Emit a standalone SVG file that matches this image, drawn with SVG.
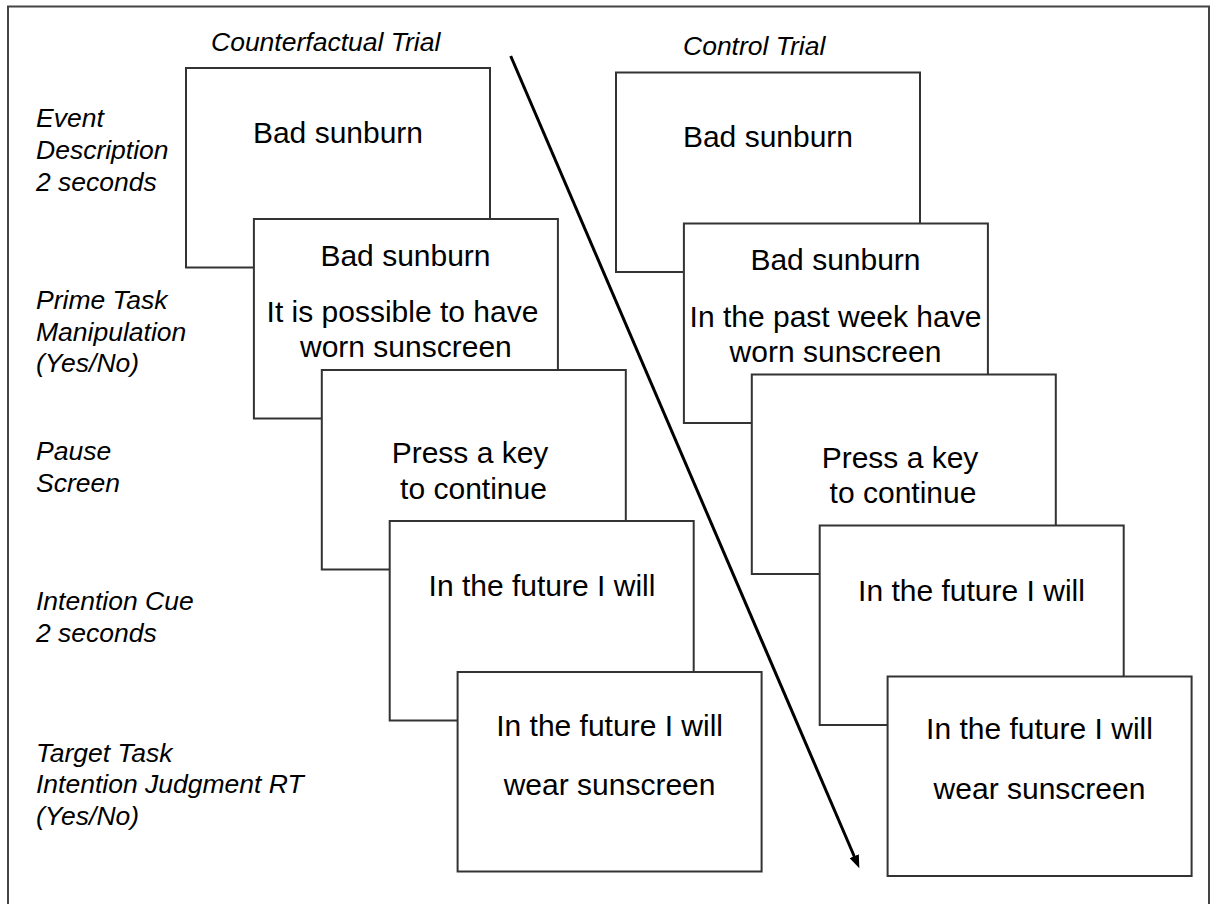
<svg xmlns="http://www.w3.org/2000/svg" width="1214" height="904" viewBox="0 0 1214 904">
<style>
.frame{fill:none;stroke:#444;stroke-width:2}
.box{fill:#fff;stroke:#333;stroke-width:2}
.lbl{font-family:"Liberation Sans",Arial,sans-serif;font-size:26.5px;font-style:italic;fill:#000}
.txt{font-family:"Liberation Sans",Arial,sans-serif;font-size:30px;fill:#000;text-anchor:middle}
.arrow{fill:none;stroke:#000;stroke-width:3}
</style>
<defs>
<marker id="ah" viewBox="0 0 13 10" refX="3" refY="5" markerWidth="13" markerHeight="10" markerUnits="userSpaceOnUse" orient="auto">
<path d="M0,0 L13,5 L0,10 Z" fill="#000"/>
</marker>
</defs>
<rect class="frame" x="8" y="6.5" width="1201" height="910"/>
<g id="labels">
<text class="lbl" x="211" y="51">Counterfactual Trial</text>
<text class="lbl" x="683" y="55">Control Trial</text>
<text class="lbl" x="36" y="127">Event</text>
<text class="lbl" x="36" y="159">Description</text>
<text class="lbl" x="36" y="191">2 seconds</text>
<text class="lbl" x="36" y="309">Prime Task</text>
<text class="lbl" x="36" y="341">Manipulation</text>
<text class="lbl" x="36" y="372">(Yes/No)</text>
<text class="lbl" x="36" y="460">Pause</text>
<text class="lbl" x="36" y="492">Screen</text>
<text class="lbl" x="36" y="610">Intention Cue</text>
<text class="lbl" x="36" y="642">2 seconds</text>
<text class="lbl" x="36" y="762">Target Task</text>
<text class="lbl" x="36" y="793">Intention Judgment RT</text>
<text class="lbl" x="36" y="825">(Yes/No)</text>
</g>
<g id="cf1"><rect class="box" x="186" y="68" width="304" height="199.5"/><text class="txt" x="338" y="143">Bad sunburn</text></g>
<g id="cf2"><rect class="box" x="253.9" y="219" width="304" height="199.5"/><text class="txt" x="405.5" y="266">Bad sunburn</text><text class="txt" x="402.5" y="322">It is possible to have</text><text class="txt" x="405.9" y="357">worn sunscreen</text></g>
<g id="cf3"><rect class="box" x="321.8" y="370" width="304" height="199.5"/><text class="txt" x="470" y="463">Press a key</text><text class="txt" x="473.5" y="499">to continue</text></g>
<g id="cf4"><rect class="box" x="389.7" y="521" width="304" height="199.5"/><text class="txt" x="542" y="596">In the future I will</text></g>
<g id="cf5"><rect class="box" x="457.6" y="672" width="304" height="199.5"/><text class="txt" x="609.6" y="736">In the future I will</text><text class="txt" x="609.6" y="795">wear sunscreen</text></g>
<g id="ct1"><rect class="box" x="616" y="72.5" width="304" height="199.5"/><text class="txt" x="768" y="147">Bad sunburn</text></g>
<g id="ct2"><rect class="box" x="683.9" y="223.5" width="304" height="199.5"/><text class="txt" x="835.5" y="270">Bad sunburn</text><text class="txt" x="835.5" y="327">In the past week have</text><text class="txt" x="835.5" y="362">worn sunscreen</text></g>
<g id="ct3"><rect class="box" x="751.8" y="374.5" width="304" height="199.5"/><text class="txt" x="900" y="468">Press a key</text><text class="txt" x="903" y="503">to continue</text></g>
<g id="ct4"><rect class="box" x="819.7" y="525.5" width="304" height="199.5"/><text class="txt" x="971.5" y="601">In the future I will</text></g>
<g id="ct5"><rect class="box" x="887.6" y="676.5" width="304" height="199.5"/><text class="txt" x="1039.5" y="739">In the future I will</text><text class="txt" x="1039.5" y="799">wear sunscreen</text></g>
<g id="connectors">
<line class="arrow" x1="510.7" y1="56" x2="855.4" y2="859" marker-end="url(#ah)"/>
</g>
</svg>
